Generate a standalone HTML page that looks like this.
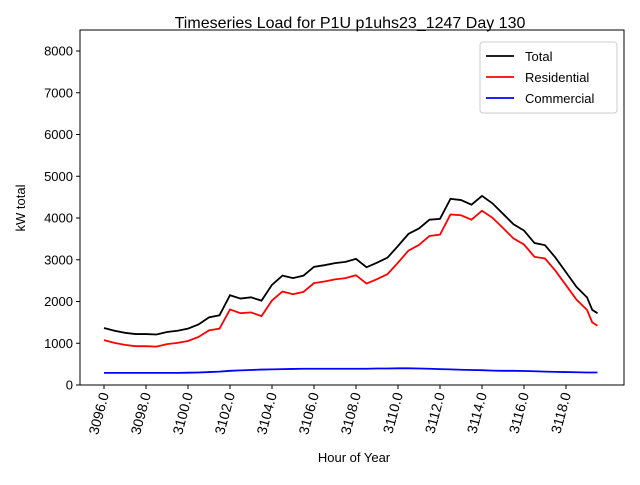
<!DOCTYPE html>
<html><head><meta charset="utf-8"><style>
body{margin:0;background:#fff;font-family:"Liberation Sans",sans-serif}
</style></head><body>
<svg width="640" height="480" xmlns="http://www.w3.org/2000/svg" font-family="Liberation Sans, DejaVu Sans, sans-serif">
<text x="350" y="28" font-size="16" text-anchor="middle">Timeseries Load for P1U p1uhs23_1247  Day 130</text>
<g id="plot"></g>
<text x="354" y="462" font-size="13" text-anchor="middle">Hour of Year</text>
<text transform="translate(25,208) rotate(-90)" font-size="13" text-anchor="middle">kW total</text>
</svg>
<script>
const hours=[3096,3096.5,3097,3097.5,3098,3098.5,3099,3099.5,3100,3100.5,3101,3101.5,3102,3102.5,3103,3103.5,3104,3104.5,3105,3105.5,3106,3106.5,3107,3107.5,3108,3108.5,3109,3109.5,3110,3110.5,3111,3111.5,3112,3112.5,3113,3113.5,3114,3114.5,3115,3115.5,3116,3116.5,3117,3117.5,3118,3118.5,3119,3119.25,3119.5];
const totalVals=[1365,1300,1250,1220,1220,1210,1270,1300,1350,1450,1620,1670,2150,2070,2100,2020,2400,2620,2560,2620,2830,2870,2920,2950,3020,2820,2930,3050,3330,3620,3750,3960,3980,4460,4430,4320,4530,4350,4100,3850,3700,3400,3350,3050,2700,2350,2100,1800,1720];
const commercial=[290,290,290,290,290,290,290,290,295,300,310,320,340,350,360,370,375,380,385,390,390,390,390,390,390,390,395,395,400,400,395,390,380,375,365,360,355,345,340,340,335,330,320,315,310,305,300,300,300];
const residential=totalVals.map((t,i)=>t-commercial[i]);
const xTicks=[3096,3098,3100,3102,3104,3106,3108,3110,3112,3114,3116,3118];
const yTicks=[0,1000,2000,3000,4000,5000,6000,7000,8000];
const L=80,R=624,T=30,B=385;
const xs=h=>104+(h-3096)*21;
const ys=v=>385-v*0.04175;
const NS="http://www.w3.org/2000/svg";
const g=document.getElementById('plot');
function mk(tag,attrs,parent){const e=document.createElementNS(NS,tag);for(const k in attrs)e.setAttribute(k,attrs[k]);(parent||g).appendChild(e);return e;}
const frame=mk('rect',{x:L,y:T,width:R-L,height:B-T,fill:'none',stroke:'#000','stroke-width':1});


yTicks.forEach(v=>{const y=ys(v);
 const l=mk('line',{x1:L-4,x2:L,y1:y,y2:y,stroke:'#000'});
 
 
 const t=mk('text',{x:L-7,y:y+4.5,'font-size':13,'text-anchor':'end'});t.textContent=v;
 
 
});
xTicks.forEach(h=>{const x=xs(h);
 const l=mk('line',{x1:x,x2:x,y1:B,y2:B+4,stroke:'#000'});
 
 
 const t=mk('text',{transform:`translate(${x+5},${B+9}) rotate(-75)`,'font-size':14,'text-anchor':'end'});t.textContent=h.toFixed(1);
 
 
});
function line(vals,color,name){
 const p=mk('polyline',{points:vals.map((v,i)=>xs(hours[i])+','+ys(v)).join(' '),fill:'none',stroke:color,'stroke-width':1.8});
 
 
}
line(totalVals,'#000','total-line');
line(residential,'#f00','residential-line');
line(commercial,'#00f','commercial-line');
const lg=mk('g',{});


mk('rect',{x:480,y:42,width:137,height:71,fill:'#fff',stroke:'#ccc',rx:3},lg);
[['Total','#000'],['Residential','#f00'],['Commercial','#00f']].forEach((e,i)=>{
 const y=56+i*21;
 const l=mk('line',{x1:486,x2:514,y1:y,y2:y,stroke:e[1],'stroke-width':1.8},lg);
 
 
 const t=mk('text',{x:525,y:y+5,'font-size':13},lg);t.textContent=e[0];
 
 
});
</script>
</body></html>
